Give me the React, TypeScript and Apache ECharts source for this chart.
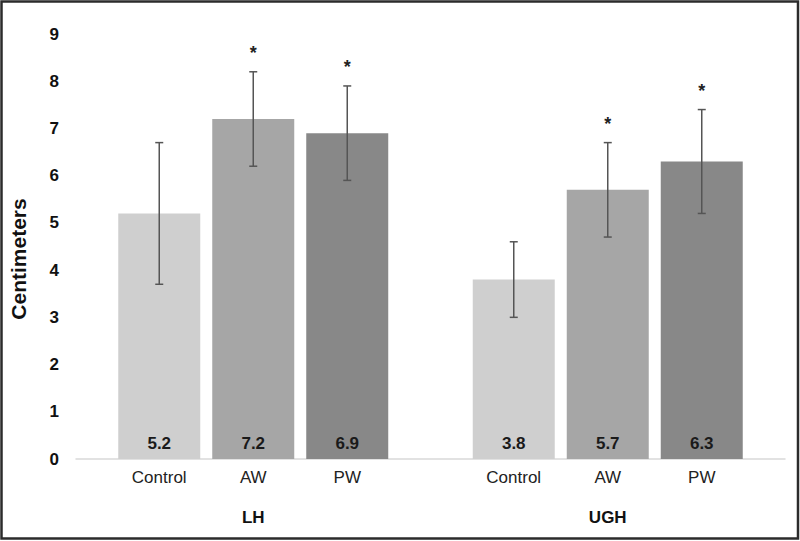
import React, { useEffect, useRef } from "react";
import * as echarts from "echarts";

const groups = ["LH", "UGH"];
const treatments = ["Control", "AW", "PW"];
const controlValues = [5.2, 3.8];
const awValues = [7.2, 5.7];
const pwValues = [6.9, 6.3];
const controlErrors = [1.5, 0.8];
const awErrors = [1.0, 1.0];
const pwErrors = [1.0, 1.1];
const controlStars = [false, false];
const awStars = [true, true];
const pwStars = [true, true];
const yTicks = [0, 1, 2, 3, 4, 5, 6, 7, 8, 9];

const colors = ["#cfcfcf", "#a6a6a6", "#888888"];
const BAR_W = 82;
const BAR_GAP = 12;
const FONT = "Arial, 'Liberation Sans', sans-serif";

export default function App() {
  const ref = useRef<HTMLDivElement>(null);
  useEffect(() => {
    if (!ref.current) return;
    const chart = echarts.init(ref.current, undefined, { renderer: "svg" });
    const valueSets = [controlValues, awValues, pwValues];
    const errSets = [controlErrors, awErrors, pwErrors];
    const starSets = [controlStars, awStars, pwStars];

    const errData: any[] = [];
    groups.forEach((g, gi) => {
      treatments.forEach((t, ti) => {
        errData.push([gi, valueSets[ti][gi], errSets[ti][gi], ti, starSets[ti][gi] ? 1 : 0]);
      });
    });

    const barSeries = treatments.map((t, ti) => ({
      name: t,
      type: "bar",
      data: valueSets[ti],
      barWidth: BAR_W,
      barGap: ((BAR_GAP / BAR_W) * 100).toFixed(2) + "%",
      itemStyle: { color: colors[ti] },
      label: {
        show: true,
        position: "insideBottom",
        distance: 7,
        formatter: (p: any) => p.value.toFixed(1),
        fontFamily: FONT,
        fontSize: 17,
        fontWeight: "bold",
        color: "#1a1a1a",
      },
      z: 2,
    }));

    chart.setOption({
      animation: false,
      grid: { left: 76, right: 15, top: 34, bottom: 82, containLabel: false },
      xAxis: {
        type: "category",
        data: groups,
        axisLine: { show: true, lineStyle: { color: "#d9d9d9", width: 1.5 } },
        axisTick: { show: false },
        axisLabel: {
          margin: 50,
          fontFamily: FONT,
          fontSize: 17,
          fontWeight: "bold",
          color: "#111",
        },
      },
      yAxis: {
        type: "value",
        min: yTicks[0],
        max: yTicks[yTicks.length - 1],
        interval: 1,
        axisLine: { show: false },
        axisTick: { show: false },
        splitLine: { show: false },
        axisLabel: {
          margin: 17,
          fontFamily: FONT,
          fontSize: 17,
          fontWeight: "bold",
          color: "#111",
        },
      },
      series: [
        ...barSeries,
        {
          type: "custom",
          clip: false,
          z: 5,
          data: errData,
          encode: { x: 0, y: 1 },
          renderItem: (params: any, api: any) => {
            const gi = api.value(0);
            const mean = api.value(1);
            const err = api.value(2);
            const ti = api.value(3);
            const star = api.value(4);
            const center = api.coord([gi, 0]);
            const cx = center[0] + (ti - 1) * (BAR_W + BAR_GAP);
            const baseY = center[1];
            const top = api.coord([gi, mean + err])[1];
            const bot = api.coord([gi, mean - err])[1];
            const stroke = { stroke: "#555555", lineWidth: 1.5 };
            const children: any[] = [
              { type: "line", shape: { x1: cx, y1: top, x2: cx, y2: bot }, style: stroke },
              { type: "line", shape: { x1: cx - 4, y1: top, x2: cx + 4, y2: top }, style: stroke },
              { type: "line", shape: { x1: cx - 4, y1: bot, x2: cx + 4, y2: bot }, style: stroke },
              {
                type: "text",
                x: cx,
                y: baseY + 18,
                style: {
                  text: treatments[ti],
                  fontFamily: FONT,
                  fontSize: 17,
                  fill: "#222",
                  align: "center",
                  verticalAlign: "middle",
                },
              },
            ];
            if (star) {
              children.push({
                type: "text",
                x: cx,
                y: top - 19,
                style: {
                  text: "*",
                  fontFamily: FONT,
                  fontSize: 18,
                  fontWeight: "bold",
                  fill: "#222",
                  align: "center",
                  verticalAlign: "middle",
                },
              });
            }
            return { type: "group", children };
          },
        },
      ],
      graphic: [
        {
          type: "text",
          x: 18,
          y: 259,
          rotation: Math.PI / 2,
          style: {
            text: "Centimeters",
            fontFamily: FONT,
            fontSize: 21,
            fontWeight: "bold",
            fill: "#111",
            align: "center",
            verticalAlign: "middle",
          },
        },
        {
          type: "rect",
          shape: { x: 1.5, y: 1.5, width: 796.5, height: 537 },
          style: { fill: "none", stroke: "#2b2b2b", lineWidth: 2.5 },
          silent: true,
        },
      ],
    });
    return () => chart.dispose();
  }, []);

  return (
    <div
      ref={ref}
      style={{ position: "absolute", left: 0, top: 0, width: 800, height: 541, background: "#fff" }}
    />
  );
}
